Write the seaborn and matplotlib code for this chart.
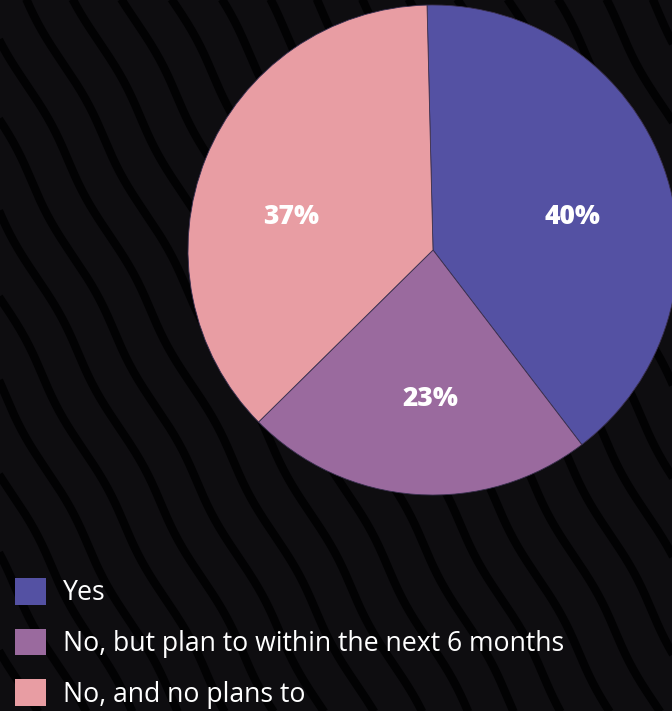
import numpy as np
import matplotlib
matplotlib.use("Agg")
import matplotlib.pyplot as plt
from matplotlib.patches import Patch
import seaborn as sns

# Survey answers and their shares
categories = ["Yes", "No, but plan to within the next 6 months", "No, and no plans to"]
shares = [40, 23, 37]
colors = ["#5451a3", "#9a6a9e", "#e89da3"]

sns.set_style("dark")
plt.rcParams["font.family"] = ["Open Sans", "DejaVu Sans"]

BG = "#0e0d10"
W, H = 672, 711
fig = plt.figure(figsize=(W / 100, H / 100), dpi=100, facecolor=BG)

# Textured backdrop: dark, gently wavy diagonal streaks
bg = fig.add_axes([0, 0, 1, 1], zorder=0)
bg.set_xlim(0, W)
bg.set_ylim(H, 0)
bg.axis("off")
bg.set_facecolor(BG)
yy = np.linspace(-20, H + 20, 400)
for i, x0 in enumerate(np.arange(-500, W + 40, 48)):
    xx = x0 + yy * 0.55 + 3 * np.sin(2 * np.pi * yy / 150 + i * 0.9)
    bg.plot(xx, yy, color="#020203", lw=6, solid_capstyle="butt", zorder=0)

# Pie: centre at (433, 250) px, radius 245 px
cx, cy, r = 433, 250, 245
ax = fig.add_axes([(cx - r) / W, (H - cy - r) / H, 2 * r / W, 2 * r / H], zorder=1)
ax.set_facecolor("none")
wedges, _ = ax.pie(shares, colors=colors, startangle=91.4, counterclock=False,
                   radius=1.0, wedgeprops=dict(linewidth=0.6, edgecolor="#3a3050"))
ax.set_xlim(-1, 1)
ax.set_ylim(-1, 1)
ax.set_aspect("equal")
ax.axis("off")

label_pos = [(0.57, 0.135), (-0.01, -0.607), (-0.58, 0.135)]
for (x, y), v in zip(label_pos, shares):
    ax.text(x, y, f"{v}%", ha="center", va="center", color="white",
            fontsize=19, fontweight="heavy")

handles = [Patch(facecolor=c, edgecolor="none") for c in colors]
leg = fig.legend(handles, categories, loc="upper left",
                 bbox_to_anchor=(15 / W, 1 - 578 / H), frameon=False,
                 fontsize=19.2, handlelength=1.16, handleheight=1.16,
                 handletextpad=0.64, labelspacing=0.8, borderpad=0,
                 borderaxespad=0)
for t in leg.get_texts():
    t.set_color("white")

fig.savefig("out.png", dpi=100, facecolor=BG)
